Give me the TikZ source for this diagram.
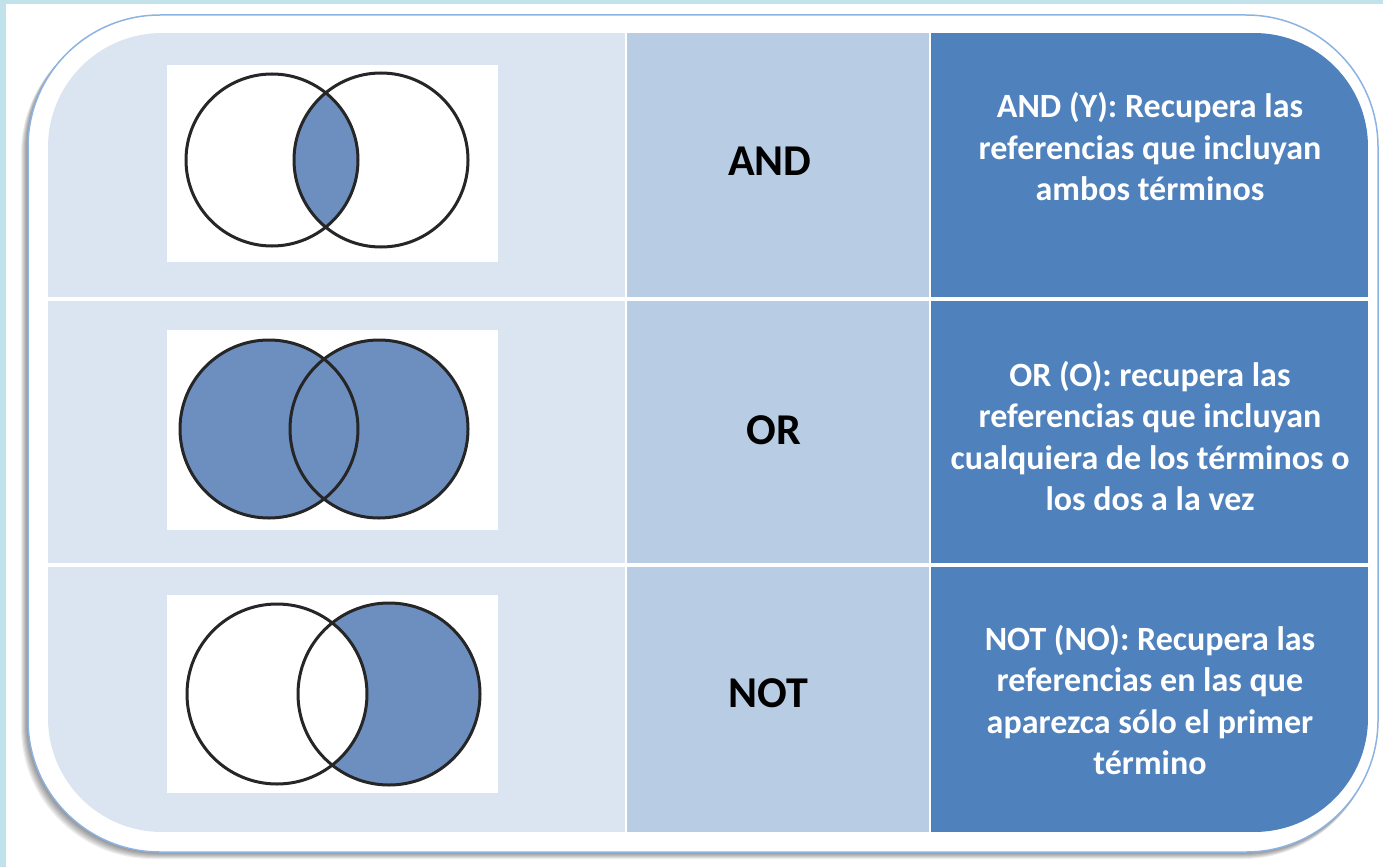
\documentclass[tikz,border=0pt]{standalone}
\usepackage{fontspec}
\setmainfont{Carlito}
\usepackage{xcolor}
\usepackage{tikz}
\definecolor{pagecyan}{HTML}{C2E2EB}
\definecolor{frameblue}{HTML}{8DB3E2}
\definecolor{paleblue}{HTML}{DBE5F1}
\definecolor{midblue}{HTML}{B8CCE4}
\definecolor{darkblue}{HTML}{4F81BD}
\definecolor{vennblue}{HTML}{6C8FC0}
\tikzset{venn/.style={draw=black!85, line width=3pt}}

\begin{document}
\begin{tikzpicture}[x=1pt, y=-1pt,
	opname/.style = {font=\fontsize{44}{52}\selectfont\bfseries, text=black, inner sep=0},
	optext/.style = {font=\fontsize{34}{41.5}\selectfont\bfseries, text=white, align=center, inner sep=0},
	vennbox/.style = {fill=white}]
	\useasboundingbox (0,0) rectangle (1383,867);
	\fill[white] (0,0) rectangle (1383,867);
	\fill[pagecyan] (0,0) rectangle (1383,4);
	\fill[pagecyan] (0,0) rectangle (6,867);
	% shadow and frame
	\foreach \s in {1,...,7}
		\fill[black, opacity=0.07, rounded corners=132] (28-\s,15+\s) rectangle (1378-0.5*\s,852+\s);
	\filldraw[fill=white, draw=frameblue, line width=1.5pt, rounded corners=132] (28,15) rectangle (1378,852);
	% table
	\begin{scope}
		\clip[rounded corners=114] (48,33) rectangle (1368,832);
		\fill[paleblue] (48,33) rectangle (625,832);
		\fill[midblue] (627,33) rectangle (929,832);
		\fill[darkblue] (931,33) rectangle (1368,832);
		\draw[white, line width=4pt] (48,299) -- (1368,299);
		\draw[white, line width=4pt] (48,565) -- (1368,565);
	\end{scope}
	% AND
	\fill[vennbox] (167,65) rectangle (498,262);
	\begin{scope}
		\clip (272,160) circle[radius=86];
		\fill[vennblue] (381,160) circle[radius=87];
	\end{scope}
	\draw[venn] (272,160) circle[radius=86] (381,160) circle[radius=87];
	% OR
	\fill[vennbox] (167,330) rectangle (498,530);
	\fill[vennblue] (269,429) circle[radius=89] (379,429) circle[radius=89];
	\draw[venn] (269,429) circle[radius=89] (379,429) circle[radius=89];
	% NOT
	\fill[vennbox] (167,595) rectangle (498,793);
	\fill[vennblue] (389,694) circle[radius=91];
	\fill[white] (277,694) circle[radius=90];
	\draw[venn] (277,694) circle[radius=90] (389,694) circle[radius=91];
	% labels
	\node[opname] (andop) at (770,161) {AND};
	\node[opname] (orop) at (774,430) {OR};
	\node[opname] (notop) at (768,693) {NOT};
	\node[optext] (andtext) at (1150,147) {AND (Y): Recupera las\\referencias que incluyan\\ambos términos};
	\node[optext] (ortext) at (1150,436) {OR (O): recupera las\\referencias que incluyan\\cualquiera de los términos o\\los dos a la vez};
	\node[optext] (nottext) at (1150,700) {NOT (NO): Recupera las\\referencias en las que\\aparezca sólo el primer\\término};
\end{tikzpicture}
\end{document}
